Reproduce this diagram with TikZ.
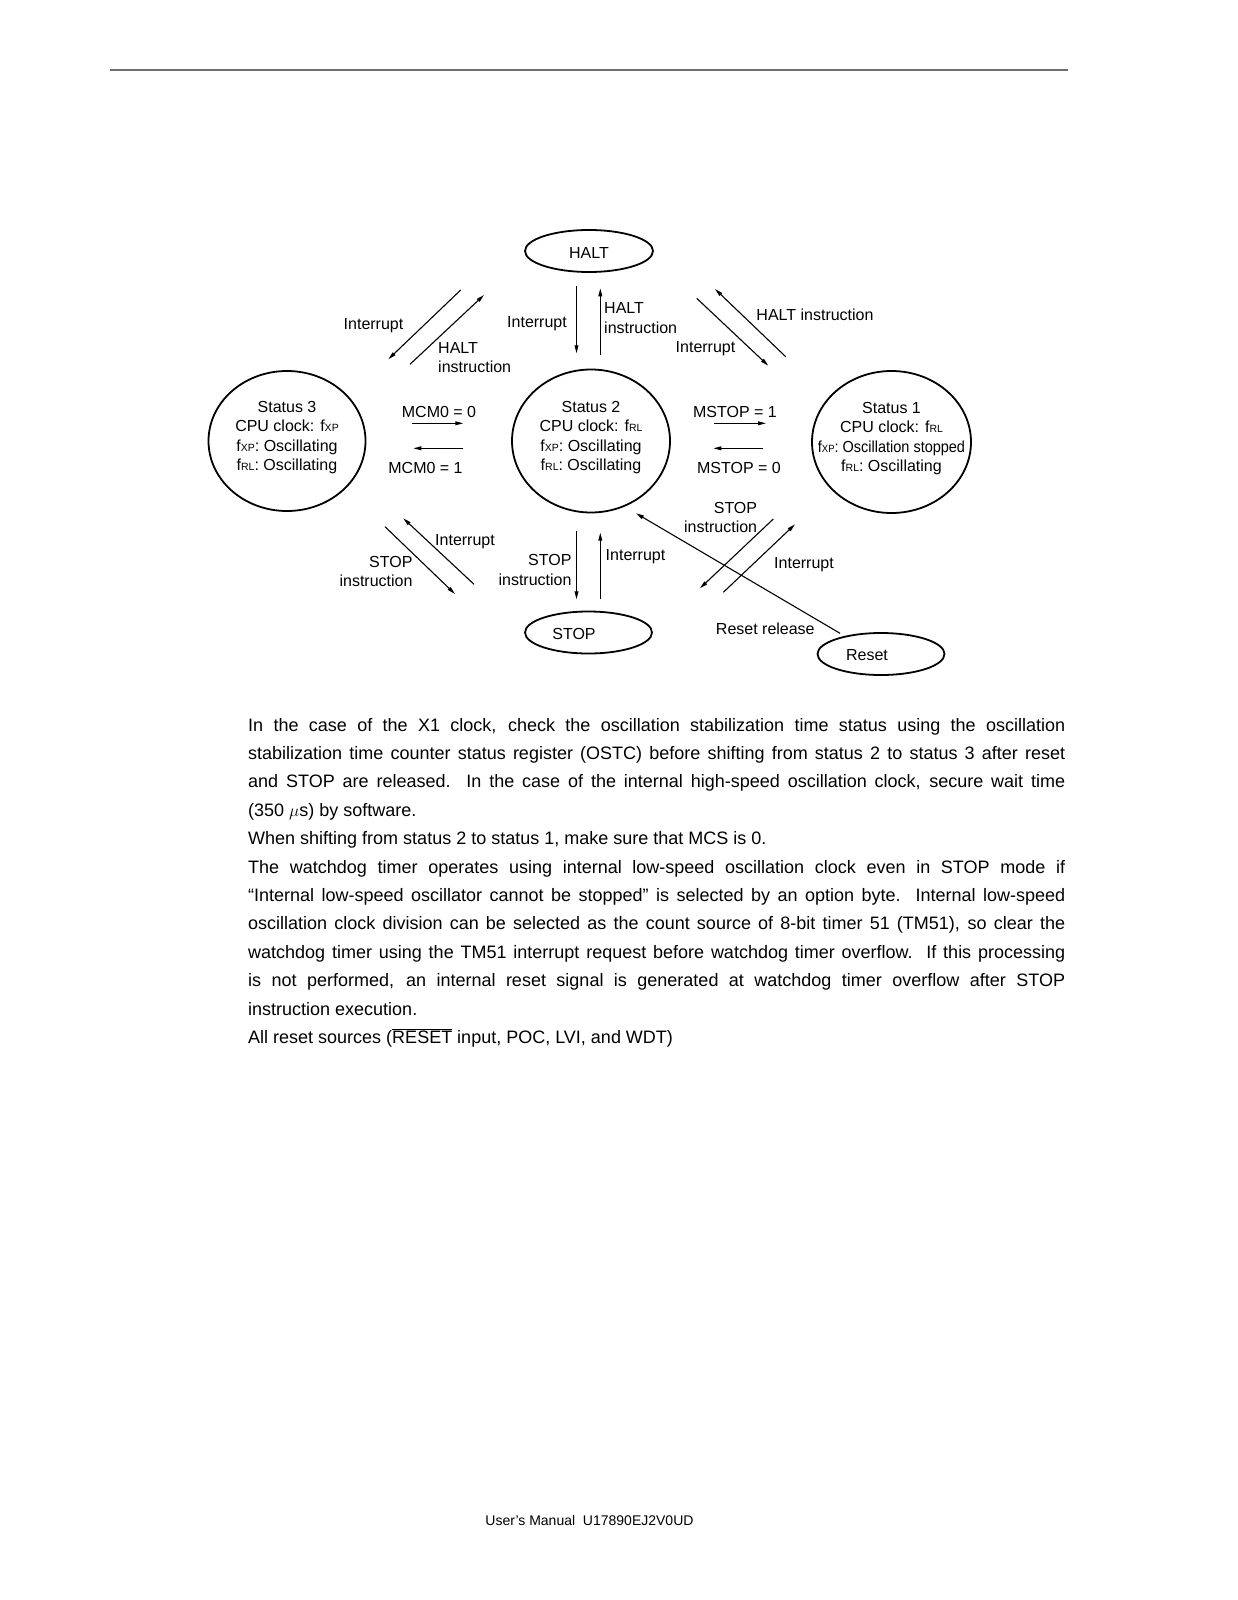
\documentclass[tikz,border=0pt]{standalone}
\usepackage{fontspec}
\usepackage{graphicx}
\setmainfont{Liberation Sans}
\usetikzlibrary{shapes.geometric,arrows.meta}
\definecolor{rulegray}{RGB}{110,110,110}
\newcommand{\smc}[1]{{\fontsize{10.5}{10}\selectfont #1}}
\newcommand{\stxt}[1]{\raisebox{3.5pt}[\height][\depth]{\begin{tabular}{@{}c@{}}#1\end{tabular}}}
\newcommand{\lowr}[1]{\raisebox{-1.5pt}[\height][\depth]{#1}}
\tikzset{
  lbl/.style={inner sep=0pt, font=\fontsize{16}{19.4}\selectfont},
  oval/.style={ellipse, draw, line width=1.8pt, inner sep=0pt, font=\fontsize{16}{19.4}\selectfont},
  arr/.style={line width=1.1pt, -{Triangle[length=8pt,width=3.8pt]}},
}
\begin{document}
\begin{tikzpicture}[x=1pt,y=-1pt]
\useasboundingbox (0,0) rectangle (1237,1600);
\draw[rulegray, line width=2pt] (110,70.4) -- (1067.5,70.4);

% states
\node[oval, minimum width=128pt, minimum height=42pt] (halt) at (589,251) {\lowr{HALT}};
\node[oval, minimum width=127pt, minimum height=42pt] (stop) at (588.5,632.5) {\lowr{STOP}\hspace*{29pt}};
\node[oval, minimum width=127pt, minimum height=42pt] (reset) at (881,654) {\lowr{Reset}\hspace*{28pt}};
\node[oval, minimum width=157pt, minimum height=140pt] (s3) at (287,441)
  {\stxt{Status 3\\CPU clock: f\smc{XP}\\f\smc{XP}: Oscillating\\f\smc{RL}: Oscillating}};
\node[oval, minimum width=158pt, minimum height=143pt] (s2) at (591,441)
  {\stxt{Status 2\\CPU clock: f\smc{RL}\\f\smc{XP}: Oscillating\\f\smc{RL}: Oscillating}};
\node[oval, minimum width=159pt, minimum height=142pt] (s1) at (891.5,442)
  {\stxt{Status 1\\CPU clock: f\smc{RL}\\\makebox[100pt][c]{\scalebox{0.905}[1]{f\smc{XP}: Oscillation stopped}}\\f\smc{RL}: Oscillating}};

% connector end points
\coordinate (a1s) at (460.7,290);   \coordinate (a1e) at (388.3,359.3);
\coordinate (a2s) at (410,364.3);   \coordinate (a2e) at (484,295);
\coordinate (a3s) at (576.5,285.7); \coordinate (a3e) at (576.5,353.3);
\coordinate (a4s) at (600.3,355);   \coordinate (a4e) at (600.3,288.3);
\coordinate (a5s) at (696.7,298.3); \coordinate (a5e) at (768.3,365.7);
\coordinate (a6s) at (785.7,356.7); \coordinate (a6e) at (715,289);
\coordinate (a7s) at (411.7,423.3); \coordinate (a7e) at (463.3,423.3);
\coordinate (a8s) at (463.3,448.3); \coordinate (a8e) at (413.3,448.3);
\coordinate (a9s) at (714,423.3);   \coordinate (a9e) at (766,423.3);
\coordinate (a10s) at (763.3,448.3);\coordinate (a10e) at (713.3,448.3);
\coordinate (a11s) at (385,526.7);  \coordinate (a11e) at (455,594);
\coordinate (a12s) at (474,584.3);  \coordinate (a12e) at (403.3,518.3);
\coordinate (a13s) at (576.5,531);  \coordinate (a13e) at (576.5,599.3);
\coordinate (a14s) at (600.3,599.3);\coordinate (a14e) at (600.3,532.7);
\coordinate (a15s) at (773.3,519);  \coordinate (a15e) at (700,588.3);
\coordinate (a16s) at (723.3,592.3);\coordinate (a16e) at (795,524.3);
\coordinate (a17s) at (840,633.3);  \coordinate (a17e) at (636,513.3);

\draw[arr] (a1s) -- (a1e);
\draw[arr] (a2s) -- (a2e);
\draw[arr] (a3s) -- (a3e);
\draw[arr] (a4s) -- (a4e);
\draw[arr] (a5s) -- (a5e);
\draw[arr] (a6s) -- (a6e);
\draw[arr] (a7s) -- (a7e);
\draw[arr] (a8s) -- (a8e);
\draw[arr] (a9s) -- (a9e);
\draw[arr] (a10s) -- (a10e);
\draw[arr] (a11s) -- (a11e);
\draw[arr] (a12s) -- (a12e);
\draw[arr] (a13s) -- (a13e);
\draw[arr] (a14s) -- (a14e);
\draw[arr] (a15s) -- (a15e);
\draw[arr] (a16s) -- (a16e);
\draw[arr] (a17s) -- (a17e);

% labels
\node[lbl] (l1) at (373.5,326) {Interrupt};
\node[lbl, anchor=west, align=left] (l2) at (438,357.7) {HALT\\instruction};
\node[lbl, anchor=east] (l3) at (567,324) {Interrupt};
\node[lbl, anchor=west, align=left] (l4) at (604,318) {HALT\\instruction};
\node[lbl] (l5) at (705.5,348.5) {Interrupt};
\node[lbl] (l6) at (815,314.5) {HALT instruction};
\node[lbl] (l7) at (439,412) {MCM0 = 0};
\node[lbl] (l8) at (425.5,468) {MCM0 = 1};
\node[lbl] (l9) at (735,412) {MSTOP = 1};
\node[lbl] (l10) at (739,467.5) {MSTOP = 0};
\node[lbl] (l11) at (465,541.5) {Interrupt};
\node[lbl, anchor=east, align=right] (l12) at (412.7,571.5) {STOP\\instruction};
\node[lbl, anchor=east, align=right] (l13) at (571.7,570) {STOP\\instruction};
\node[lbl] (l14) at (635.5,557) {Interrupt};
\node[lbl, anchor=east, align=right] (l15) at (757.3,517.5) {STOP\\instruction};
\node[lbl] (l16) at (804,564.7) {Interrupt};
\node[lbl] (l17) at (765.3,628.3) {Reset release};

% notes
\node[anchor=base west, text width=817pt, align=justify, inner sep=0pt,
      font=\fontsize{18}{28.4}\selectfont] (notes) at (248,731)
{\hyphenpenalty=10000\tolerance=9999
In the case of the X1 clock, check the oscillation stabilization time status using the oscillation\linebreak
stabilization time counter status register (OSTC) before shifting from status 2 to status 3 after reset\linebreak
and STOP are released.\ \ In the case of the internal high-speed oscillation clock, secure wait time\linebreak
(350 $\mu$s) by software.\par
When shifting from status 2 to status 1, make sure that MCS is 0.\par
The watchdog timer operates using internal low-speed oscillation clock even in STOP mode if\linebreak
“Internal low-speed oscillator cannot be stopped” is selected by an option byte.\ \ Internal low-speed\linebreak
oscillation clock division can be selected as the count source of 8-bit timer 51 (TM51), so clear the\linebreak
watchdog timer using the TM51 interrupt request before watchdog timer overflow.\ \ If this processing\linebreak
is not performed, an internal reset signal is generated at watchdog timer overflow after STOP\linebreak
instruction execution.\par
All reset sources ($\overline{\mbox{RESET}}$ input, POC, LVI, and WDT)\par};

\node[inner sep=0pt, font=\fontsize{14}{16}\selectfont] (footer) at (589.5,1520) {User’s Manual\ \ U17890EJ2V0UD};
\end{tikzpicture}
\end{document}
